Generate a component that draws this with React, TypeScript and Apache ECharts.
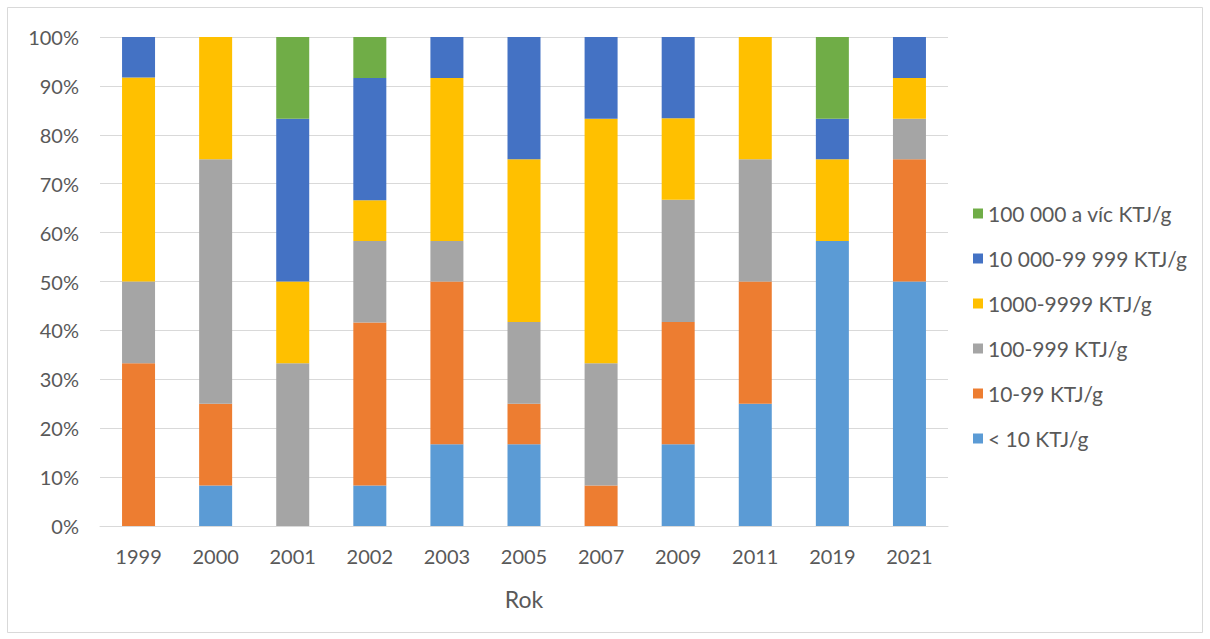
import React, { useEffect, useRef } from "react";
import * as echarts from "echarts";

const years = ["1999", "2000", "2001", "2002", "2003", "2005", "2007", "2009", "2011", "2019", "2021"];
const seriesNames = [
  "< 10 KTJ/g",
  "10-99 KTJ/g",
  "100-999 KTJ/g",
  "1000-9999 KTJ/g",
  "10 000-99 999 KTJ/g",
  "100 000 a víc KTJ/g",
];
const lt10 = [0, 8.3, 0, 8.3, 16.7, 16.7, 0, 16.7, 25, 58.3, 50];
const r10to99 = [33.3, 16.7, 0, 33.3, 33.3, 8.3, 8.3, 25, 25, 0, 25];
const r100to999 = [16.7, 50, 33.3, 16.7, 8.3, 16.7, 25, 25, 25, 0, 8.3];
const r1000to9999 = [41.7, 25, 16.7, 8.3, 33.3, 33.3, 50, 16.7, 25, 16.7, 8.3];
const r10000to99999 = [8.3, 0, 33.3, 25, 8.4, 25, 16.7, 16.6, 0, 8.3, 8.4];
const r100000plus = [0, 0, 16.7, 8.4, 0, 0, 0, 0, 0, 16.7, 0];
const yTicks = [0, 10, 20, 30, 40, 50, 60, 70, 80, 90, 100];

const colors = ["#5B9BD5", "#ED7D31", "#A5A5A5", "#FFC000", "#4472C4", "#70AD47"];
const FONT = "Lato";
const TXT = "#595959";

export default function App() {
  const ref = useRef<HTMLDivElement>(null);
  useEffect(() => {
    if (!ref.current) return;
    const chart = echarts.init(ref.current, null, { renderer: "svg" });
    const dataSets = [lt10, r10to99, r100to999, r1000to9999, r10000to99999, r100000plus];
    chart.setOption({
      animation: false,
      color: colors,
      textStyle: { fontFamily: FONT },
      graphic: [
        {
          type: "rect",
          shape: { x: 7.5, y: 7.5, width: 1195, height: 625 },
          style: { fill: "none", stroke: "#D9D9D9", lineWidth: 1 },
          silent: true,
        },
      ],
      grid: { left: 100, right: 262, top: 37, bottom: 113, containLabel: false },
      legend: {
        orient: "vertical",
        left: 968,
        top: 198,
        icon: "rect",
        itemWidth: 10,
        itemHeight: 10,
        itemGap: 24,
        data: [...seriesNames].reverse(),
        textStyle: { color: TXT, fontSize: 21, fontFamily: FONT, lineHeight: 20 },
      },
      xAxis: {
        type: "category",
        data: years,
        name: "Rok",
        nameLocation: "middle",
        nameGap: 61,
        nameTextStyle: { color: TXT, fontSize: 23, fontFamily: FONT },
        axisLine: { lineStyle: { color: "#D9D9D9" } },
        axisTick: { show: false },
        axisLabel: { color: TXT, fontSize: 20, fontFamily: FONT, margin: 20 },
      },
      yAxis: {
        type: "value",
        min: yTicks[0],
        max: yTicks[yTicks.length - 1],
        interval: 10,
        axisLine: { show: false },
        axisTick: { show: false },
        splitLine: { lineStyle: { color: "#D9D9D9" } },
        axisLabel: { color: TXT, fontSize: 20, fontFamily: FONT, margin: 21, formatter: "{value}%" },
      },
      series: seriesNames.map((name, i) => ({
        name,
        type: "bar",
        stack: "total",
        barWidth: 33,
        data: dataSets[i],
      })),
    });
    return () => chart.dispose();
  }, []);
  return (
    <div
      ref={ref}
      style={{ position: "absolute", left: 0, top: 0, width: 1210, height: 639, background: "#fff" }}
    />
  );
}
